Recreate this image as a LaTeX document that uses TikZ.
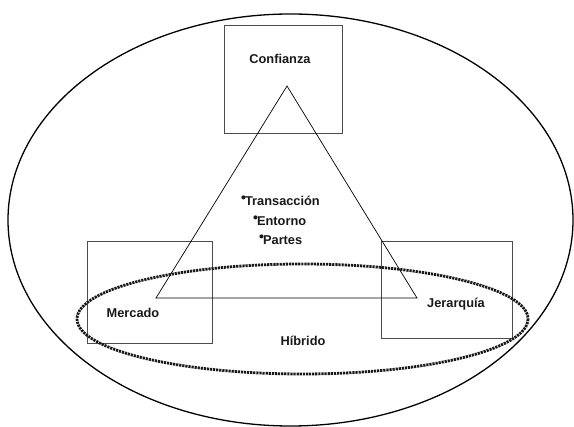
\documentclass[tikz,border=0pt]{standalone}
\usepackage{fontspec}
\setmainfont{Liberation Sans}
\newcommand{\itembullet}{\raisebox{0.22em}{\fontsize{14}{14}\selectfont\textbullet}\kern-1pt}
\begin{document}
\begin{tikzpicture}[x=1pt,y=-1pt,
  label/.style={font=\fontsize{12.8}{14}\selectfont\bfseries, text=black!90, inner sep=0pt},
  box/.style={draw=black!70, line width=0.9pt},
  outer/.style={draw=black, line width=1.3pt},
  hybrid/.style={draw=black!90, line width=2.8pt, dash pattern=on 2.2pt off 0.9pt},
  tri/.style={draw=black, line width=0.7pt}]
\useasboundingbox (0,0) rectangle (574,427);
\fill[white] (0,0) rectangle (574,427);

% enclosing ellipse
\draw[outer] (290.5,220) ellipse [x radius=282.5, y radius=206];

% the three corner boxes
\draw[box] (224,25) rectangle (342,133);
\draw[box] (87,241) rectangle (212,343);
\draw[box] (381,241) rectangle (512,338);

% triangle of attributes
\coordinate (apex) at (287,86);
\coordinate (bl) at (156,298);
\coordinate (br) at (417,298);
\draw[tri] (apex) -- (bl) -- (br) -- cycle;

% hybrid zone
\draw[hybrid] (302.5,319) ellipse [x radius=225.5, y radius=55];

% labels
\node[label] (conf) at (280,59) {Confianza};
\node[label] (merc) at (133,313) {Mercado};
\node[label] (jer) at (456,304) {Jerarquía};
\node[label] (hib) at (303,341) {Híbrido};

\node[label, anchor=west] (trans) at (241,201) {\itembullet Transacción};
\node[label, anchor=west] (ent) at (253,221) {\itembullet Entorno};
\node[label, anchor=west] (part) at (259,240) {\itembullet Partes};
\end{tikzpicture}
\end{document}
